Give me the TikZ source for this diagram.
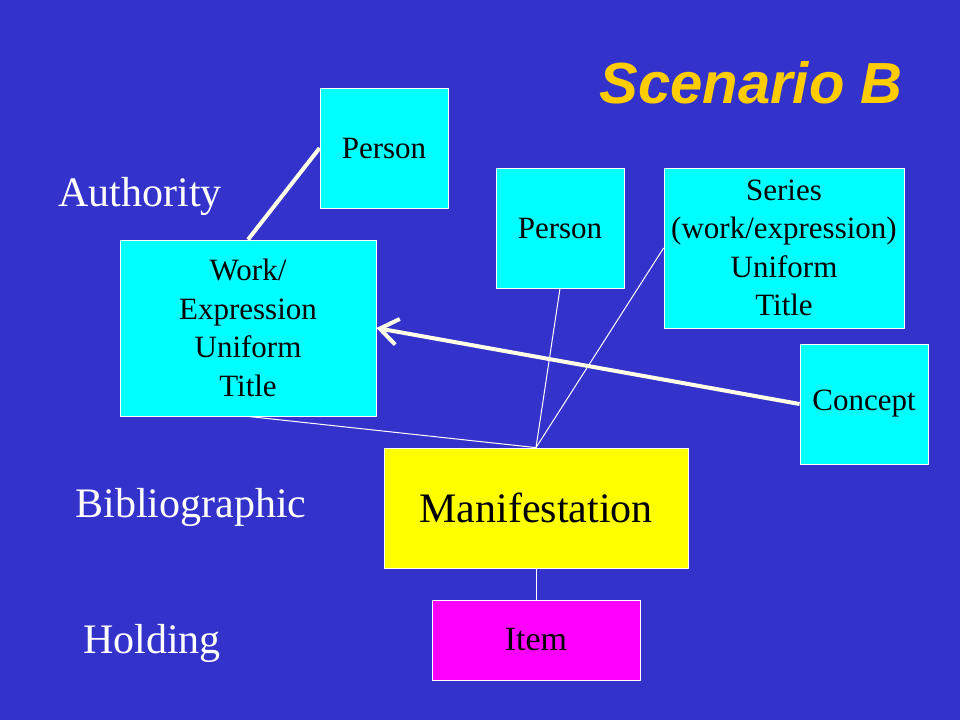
\documentclass[tikz,border=0pt]{standalone}
\usepackage{fontspec}
\setmainfont{Liberation Serif}
\newfontfamily\titlefont{Liberation Sans}
\usetikzlibrary{arrows.meta}
\definecolor{bg}{HTML}{3333CC}
\definecolor{cyanbox}{HTML}{00FFFF}
\definecolor{yellowbox}{HTML}{FFFF00}
\definecolor{magentabox}{HTML}{FF00FF}
\definecolor{titlecol}{HTML}{FFCC00}
\definecolor{thickline}{HTML}{FFFFE8}
\tikzset{
  box/.style={draw=white, line width=0.8pt, fill=cyanbox, text=black, align=center, inner sep=0pt,
    font=\fontsize{31}{38.5}\selectfont},
  sidelabel/.style={text=white, font=\fontsize{42}{48}\selectfont, inner sep=0pt},
  thin/.style={draw=white, line width=1pt},
  thick/.style={draw=thickline, line width=4pt},
}
\begin{document}
\begin{tikzpicture}[x=1pt,y=-1pt]
\fill[bg] (0,0) rectangle (960,720);
\useasboundingbox (0,0) rectangle (960,720);
\node[text=titlecol, font=\titlefont\bfseries\itshape\fontsize{58}{64}\selectfont, inner sep=0pt] (title) at (751,83) {Scenario B};
\node[sidelabel] (auth) at (140,196) {Authority};
\node[sidelabel] (biblio) at (191,507) {Bibliographic};
\node[sidelabel] (hold) at (152,643) {Holding};
\node[box, minimum width=128pt, minimum height=120pt] (p1) at (384,148) {Person};
\node[box, minimum width=256pt, minimum height=176pt] (work) at (248,328) {Work/\\Expression\\Uniform\\Title};
\node[box, minimum width=128pt, minimum height=120pt] (p2) at (560,228) {Person};
\node[box, minimum width=240pt, minimum height=160pt] (series) at (784,248) {Series\\(work/expression)\\Uniform\\Title};
\node[box, minimum width=128pt, minimum height=120pt] (concept) at (864,404) {Concept};
\node[box, fill=yellowbox, minimum width=304pt, minimum height=120pt, font=\fontsize{42}{48}\selectfont] (manif) at (536,508) {Manifestation};
\node[box, fill=magentabox, minimum width=208pt, minimum height=80pt, font=\fontsize{34}{38}\selectfont] (item) at (536,640) {Item};
\draw[thick] (p1.west) -- (work.north);
\draw[thin] (work.south) -- (manif.north);
\draw[thin] (p2.south) -- (manif.north);
\draw[thin] (series.west) -- (manif.north);
\draw[thin] (manif.south) -- (item.north);
\draw[thick, -{Straight Barb[length=18pt,width=26pt,line width=4pt]}] (concept.west) -- (work.east);
\end{tikzpicture}
\end{document}
